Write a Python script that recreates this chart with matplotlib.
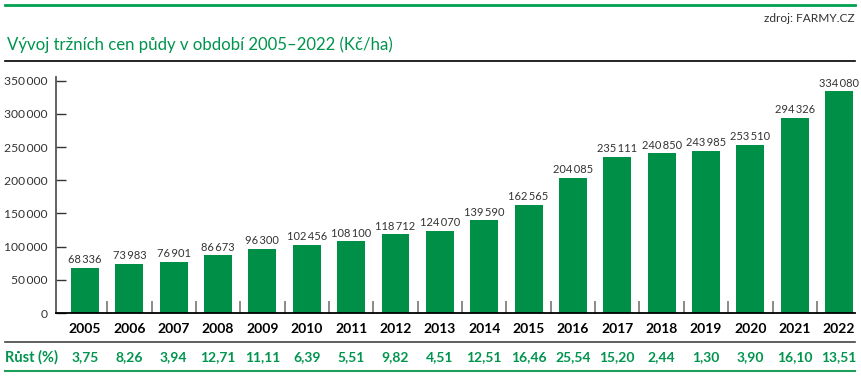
import matplotlib.pyplot as plt
import matplotlib.transforms as mtransforms
from matplotlib.lines import Line2D
from matplotlib.ticker import FuncFormatter

# Data
roky = ['2005', '2006', '2007', '2008', '2009', '2010', '2011', '2012', '2013',
        '2014', '2015', '2016', '2017', '2018', '2019', '2020', '2021', '2022']
ceny = [68336, 73983, 76901, 86673, 96300, 102456, 108100, 118712, 124070,
        139590, 162565, 204085, 235111, 240850, 243985, 253510, 294326, 334080]
rust = ['3,75', '8,26', '3,94', '12,71', '11,11', '6,39', '5,51', '9,82', '4,51',
        '12,51', '16,46', '25,54', '15,20', '2,44', '1,30', '3,90', '16,10', '13,51']
y_ticks = [0, 50000, 100000, 150000, 200000, 250000, 300000, 350000]

ZELENA = '#008F47'
ZELENA_TXT = '#00944E'
SEDA = '#333333'

plt.rcParams['font.family'] = ['Lato', 'DejaVu Sans']

W, H = 862, 377
fig = plt.figure(figsize=(W / 100, H / 100), dpi=100)


def fy(px):
    return 1 - px / H


def fx(px):
    return px / W


def mezery(v):
    return '{:,}'.format(int(v)).replace(',', '\u2009')


# linky v hlavicce a pod tabulkou
fig.add_artist(Line2D([fx(5), fx(855)], [fy(5), fy(5)], color='#00A050', lw=2))
fig.add_artist(Line2D([fx(5), fx(855)], [fy(61), fy(61)], color='black', lw=1.2))
fig.add_artist(Line2D([fx(5), fx(855)], [fy(341.5), fy(341.5)], color='#444444', lw=1.2))
fig.add_artist(Line2D([fx(5), fx(855)], [fy(370.5), fy(370.5)], color='#1FA05A', lw=1.5))

fig.text(fx(855), fy(18), 'zdroj: FARMY.CZ', ha='right', va='center', fontsize=8.6, color=SEDA)
fig.text(fx(7), fy(45), 'Vývoj tržních cen půdy v období 2005–2022 (Kč/ha)',
         ha='left', va='center', fontsize=12.1, color=ZELENA_TXT)

ax = fig.add_axes([fx(56), fy(313), fx(855) - fx(56), fy(77.4) - fy(313)])
x = list(range(len(roky)))
ax.bar(x, ceny, width=0.63, color=ZELENA, zorder=2)

for xi, v in zip(x, ceny):
    ax.text(xi, v + 4000, mezery(v), ha='center', va='bottom', fontsize=8, color=SEDA)

ax.set_xlim(-0.654, 17.36)
ax.set_ylim(0, 355000)

ax.set_yticks(y_ticks)
ax.yaxis.set_major_formatter(FuncFormatter(lambda v, p: mezery(v)))
ax.tick_params(axis='y', direction='in', length=7, width=1, color=SEDA,
               labelsize=8.7, labelcolor=SEDA, pad=6)

ax.set_xticks(x)
ax.set_xticklabels(roky, fontweight='bold', fontsize=10, color='black')
ax.set_xticks([i + 0.5 for i in range(len(roky) - 1)], minor=True)
ax.tick_params(axis='x', which='major', length=0, pad=7)
ax.tick_params(axis='x', which='minor', direction='in', length=8.5, width=1.2, color='#777777')

for side in ['top', 'right']:
    ax.spines[side].set_visible(False)
ax.spines['left'].set_color('#555555')
ax.spines['left'].set_linewidth(1.3)
ax.spines['bottom'].set_color('black')
ax.spines['bottom'].set_linewidth(1.3)

# radek s rustem
trans = mtransforms.blended_transform_factory(ax.transData, fig.transFigure)
fig.text(fx(5), fy(357), 'Růst (%)', ha='left', va='center', fontsize=10.5,
         fontweight='bold', color=ZELENA_TXT)
for xi, r in zip(x, rust):
    ax.text(xi, fy(357), r, transform=trans, ha='center', va='center', fontsize=10,
            fontweight='bold', color=ZELENA_TXT, clip_on=False)

fig.savefig('out.png', dpi=100)
